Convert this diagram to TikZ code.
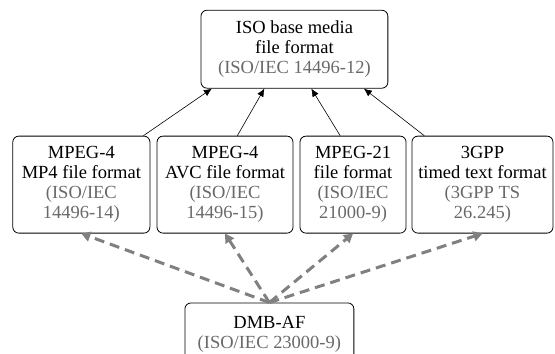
\documentclass[tikz,border=0pt]{standalone}
\usepackage{fontspec}
\setmainfont{Liberation Serif}
\usepackage{tikz}
\usetikzlibrary{calc,positioning,arrows.meta}

\definecolor{refgray}{RGB}{105,105,105}
\definecolor{linkgray}{RGB}{128,128,128}

\newcommand{\stdref}[1]{{\color{refgray}#1}}

\begin{document}
\begin{tikzpicture}[
		fmtbox/.style={draw, rounded corners=6pt, line width=0.8pt, align=center,
			inner sep=0pt, font=\fontsize{18.5}{20}\selectfont},
		useslink/.style={-{Latex[length=8pt,width=7pt]}, line width=0.6pt},
		dmblink/.style={-{Triangle[length=9pt,width=10pt]}, linkgray, line width=3pt,
			dash pattern=on 10pt off 6pt}
	]
		\useasboundingbox (0,0) rectangle (19.51,12.41);

		% base format
		\node[fmtbox, minimum width=6.57cm, minimum height=2.74cm] (iso) at (10.35,10.68)
			{ISO base media\\file format\\\stdref{(ISO/IEC 14496-12)}};

		% derived formats
		\node[fmtbox, minimum width=4.82cm, minimum height=3.41cm] (mp4) at (2.86,5.92)
			{MPEG-4\\MP4 file format\\\stdref{(ISO/IEC}\\\stdref{14496-14)}};
		\node[fmtbox, minimum width=4.78cm, minimum height=3.41cm] (avc) at (7.91,5.92)
			{MPEG-4\\AVC file format\\\stdref{(ISO/IEC}\\\stdref{14496-15)}};
		\node[fmtbox, minimum width=3.73cm, minimum height=3.41cm] (m21) at (12.41,5.92)
			{MPEG-21\\file format\\\stdref{(ISO/IEC}\\\stdref{21000-9)}};
		\node[fmtbox, minimum width=4.96cm, minimum height=3.41cm] (ttf) at (16.96,5.92)
			{3GPP\\timed text format\\\stdref{(3GPP TS}\\\stdref{26.245)}};

		% application format
		\node[fmtbox, minimum width=5.94cm, minimum height=2.18cm] (dmb) at (9.47,0.67)
			{DMB-AF\\\stdref{(ISO/IEC 23000-9)}};

		\draw[useslink] ($(mp4.north west)!0.95!(mp4.north east)$) -- ($(iso.south west)!0.06!(iso.south east)$);
		\draw[useslink] ($(avc.north west)!0.59!(avc.north east)$) -- ($(iso.south west)!0.34!(iso.south east)$);
		\draw[useslink] ($(m21.north west)!0.38!(m21.north east)$) -- ($(iso.south west)!0.59!(iso.south east)$);
		\draw[useslink] ($(ttf.north west)!0.09!(ttf.north east)$) -- ($(iso.south west)!0.87!(iso.south east)$);

		\draw[dmblink] (dmb.north) -- (mp4.south);
		\draw[dmblink] (dmb.north) -- (avc.south);
		\draw[dmblink] (dmb.north) -- (m21.south);
		\draw[dmblink] (dmb.north) -- (ttf.south);
	\end{tikzpicture}
\end{document}
